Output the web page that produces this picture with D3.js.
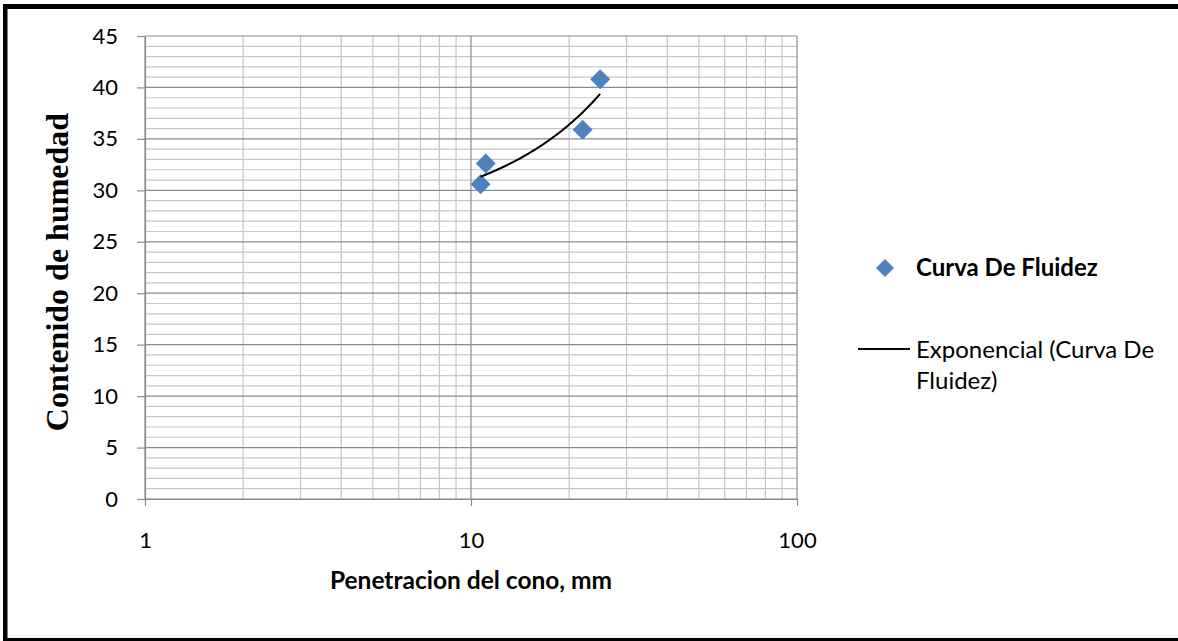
<!DOCTYPE html>
<html>
<head>
<meta charset="utf-8">
<script src="https://cdn.jsdelivr.net/npm/d3@7"></script>
<style>
  html, body { margin: 0; padding: 0; background: #fff; }
  svg { display: block; }
  text { font-family: Lato, "Open Sans", sans-serif; fill: #000; }
</style>
</head>
<body>
<svg id="chart" width="1178" height="641"></svg>
<script>
// ---- data ----
const seriesName = "Curva De Fluidez";
const trendName1 = "Exponencial (Curva De";
const trendName2 = "Fluidez)";
const penetration = [10.7, 11.1, 22.0, 24.9];   // mm (x)
const moisture    = [30.6, 32.6, 35.9, 40.8];   // % (y)
const xTickValues = [1, 10, 100];
const yTickValues = [0, 5, 10, 15, 20, 25, 30, 35, 40, 45];
const xTitle = "Penetracion del cono, mm";
const yTitle = "Contenido de humedad";

const svg = d3.select("#chart");

// frame
svg.append("rect").attr("x", 3).attr("y", 4).attr("width", 1175).attr("height", 5).attr("fill", "#000");
svg.append("rect").attr("x", 3).attr("y", 4).attr("width", 4.5).attr("height", 637).attr("fill", "#000");
svg.append("rect").attr("x", 3).attr("y", 638).attr("width", 1175).attr("height", 3).attr("fill", "#000");

const x = d3.scaleLog().domain([1, 100]).range([145, 797]);
const y = d3.scaleLinear().domain([0, 45]).range([499, 36]);

const grid = svg.append("g");
// minor horizontal
for (let v = 1; v < 45; v++) {
  if (v % 5 === 0) continue;
  grid.append("line").attr("x1", x(1)).attr("x2", x(100)).attr("y1", y(v)).attr("y2", y(v))
    .attr("stroke", "#c6c6c6").attr("stroke-width", 1.2);
}
// minor vertical
[2,3,4,5,6,7,8,9,20,30,40,50,60,70,80,90].forEach(v => {
  grid.append("line").attr("x1", x(v)).attr("x2", x(v)).attr("y1", y(0)).attr("y2", y(45))
    .attr("stroke", "#c6c6c6").attr("stroke-width", 1.2);
});
// major horizontal
yTickValues.forEach(v => {
  grid.append("line").attr("x1", x(1)).attr("x2", x(100)).attr("y1", y(v)).attr("y2", y(v))
    .attr("stroke", "#8a8a8a").attr("stroke-width", 1.2);
});
// major vertical
xTickValues.forEach(v => {
  grid.append("line").attr("x1", x(v)).attr("x2", x(v)).attr("y1", y(0)).attr("y2", y(45))
    .attr("stroke", "#8a8a8a").attr("stroke-width", 1.2);
});

// axes
const yAxis = svg.append("g").attr("transform", `translate(${x(1)},0)`)
  .call(d3.axisLeft(y).tickValues(yTickValues).tickSizeInner(8).tickSizeOuter(0).tickPadding(19));
const xAxis = svg.append("g").attr("transform", `translate(0,${y(0)})`)
  .call(d3.axisBottom(x).tickValues(xTickValues).tickFormat(d3.format("d")).tickSizeInner(7).tickSizeOuter(0).tickPadding(26));
[yAxis, xAxis].forEach(a => {
  a.selectAll("path.domain").attr("stroke", "#8a8a8a").attr("stroke-width", 1.2);
  a.selectAll(".tick line").attr("stroke", "#8a8a8a").attr("stroke-width", 1.2);
  a.selectAll("text").style("font-family", "Lato, sans-serif").style("font-size", "22px").attr("fill", "#000");
});

// trendline: exponential fit y = a*e^(b x)
const n = penetration.length;
const lny = moisture.map(v => Math.log(v));
const mx = d3.mean(penetration), my = d3.mean(lny);
let sxy = 0, sxx = 0;
for (let i = 0; i < n; i++) { sxy += (penetration[i]-mx)*(lny[i]-my); sxx += (penetration[i]-mx)**2; }
const b = sxy / sxx, a = Math.exp(my - b*mx);
const [xmin, xmax] = d3.extent(penetration);
const trendPts = d3.range(0, 61).map(i => { const xv = xmin + (xmax-xmin)*i/60; return [xv, a*Math.exp(b*xv)]; });

// markers
svg.append("g").selectAll("path").data(penetration.map((d,i)=>[d, moisture[i]])).join("path")
  .attr("d", d3.symbol().type(d3.symbolSquare).size(200))
  .attr("transform", d => `translate(${x(d[0])},${y(d[1])}) rotate(45)`)
  .attr("fill", "#4F81BD");

svg.append("path").datum(trendPts)
  .attr("d", d3.line().x(d => x(d[0])).y(d => y(d[1])))
  .attr("fill", "none").attr("stroke", "#000").attr("stroke-width", 2);

// legend
svg.append("path").attr("d", d3.symbol().type(d3.symbolSquare).size(162)())
  .attr("transform", "translate(885,268) rotate(45)").attr("fill", "#4F81BD");
svg.append("text").attr("x", 916).attr("y", 276).style("font-size", "24px").style("font-weight", "bold").text(seriesName);
svg.append("line").attr("x1", 858).attr("x2", 910).attr("y1", 349).attr("y2", 349).attr("stroke", "#000").attr("stroke-width", 2);
svg.append("text").attr("x", 916).attr("y", 358).style("font-size", "24px").text(trendName1);
svg.append("text").attr("x", 916).attr("y", 389).style("font-size", "24px").text(trendName2);

// titles
svg.append("text").attr("x", 471).attr("y", 589).attr("text-anchor", "middle")
  .style("font-size", "24.5px").style("font-weight", "bold").text(xTitle);
svg.append("text").attr("transform", "translate(68,272) rotate(-90)").attr("text-anchor", "middle")
  .style("font-family", "'Liberation Serif', 'DejaVu Serif', serif").style("font-size", "32px").style("font-weight", "bold")
  .text(yTitle);
</script>
</body>
</html>
